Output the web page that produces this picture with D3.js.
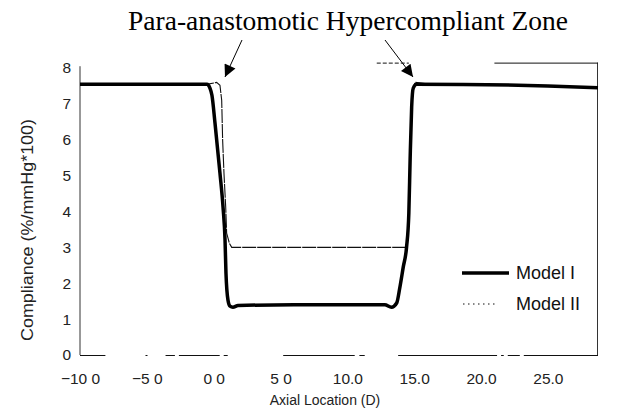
<!DOCTYPE html>
<html>
<head>
<meta charset="utf-8">
<script src="https://cdn.jsdelivr.net/npm/d3@7"></script>
<style>
  body { margin: 0; background: #fff; }
  svg { display: block; }
  .tick text { font-family: "Liberation Sans", Arial, sans-serif; fill: #222; }
</style>
</head>
<body>
<div id="chart"></div>
<script>
// axial location (D) and compliance (%/mmHg*100)
const modelIx = [-10, -1.0, -0.5, -0.28, -0.13, 0.10, 0.47, 0.70, 0.85, 0.92, 1.07, 1.22, 1.44, 1.82, 6.0, 12.8, 13.3, 13.69, 13.93, 14.18, 14.43, 14.6, 14.7, 14.81, 14.93, 15.18, 25.0, 28.75]
const modelIy = [7.55, 7.55, 7.55, 7.44, 7.24, 6.46, 5.07, 4.12, 3.20, 2.28, 1.53, 1.36, 1.33, 1.38, 1.40, 1.40, 1.33, 1.45, 1.89, 2.45, 3.01, 3.96, 5.52, 6.91, 7.44, 7.55, 7.5, 7.45]

const modelIIx = [-10, -0.43, 0.22, 0.47, 0.60, 0.67, 0.77, 0.90, 0.97, 1.17, 1.35, 14.31, 14.43, 14.6, 14.7, 14.81, 14.93, 15.06, 15.8, 25.0, 28.75]
const modelIIy = [7.55, 7.55, 7.6, 7.52, 7.1, 5.99, 5.07, 4.12, 3.4, 3.12, 3.0, 3.0, 3.01, 3.96, 5.52, 6.91, 7.44, 7.6, 7.57, 7.5, 7.45]

const xTicks = [-10, -5, 0, 5, 10, 15, 20, 25]
const xTickLabels = ['\u221210 0', '\u22125 0', '0 0', '5 0', '10.0', '15.0', '20.0', '25.0']
const yTicks = [0, 1, 2, 3, 4, 5, 6, 7, 8]

const title = 'Para-anastomotic Hypercompliant Zone'
const xTitle = 'Axial Location (D)'
const yTitle = 'Compliance (%/mmHg*100)'
const seriesNames = ['Model I', 'Model II']

const width = 630, height = 412
const svg = d3.select('#chart').append('svg')
    .attr('width', width)
    .attr('height', height)

const x = d3.scaleLinear().domain([-10, 28.75]).range([80, 598])
const y = d3.scaleLinear().domain([0, 8]).range([355, 68])

// frame: scanned original shows broken lines, keep the visible pieces
const frame = svg.append('g').attr('stroke', '#111').attr('stroke-width', 1).attr('fill', 'none')
const bottomSegs = [[-10, -8.1], [-5.1, -4.95], [-3.6, -2.9], [-2.6, 0.45], [0.75, 1.05],
                    [5.2, 10.55], [10.9, 11.3], [13.8, 21.2], [21.5, 21.7], [22.0, 22.9], [23.2, 28.75]]
bottomSegs.forEach(s => {
    frame.append('line')
        .attr('x1', x(s[0])).attr('x2', x(s[1]))
        .attr('y1', y(0) + 0.5).attr('y2', y(0) + 0.5)
})
frame.append('line')
    .attr('x1', x(-10)).attr('x2', x(-10))
    .attr('y1', y(0)).attr('y2', y(8.05))
    .attr('stroke', '#333')
frame.append('line')
    .attr('x1', x(28.75) - 0.5).attr('x2', x(28.75) - 0.5)
    .attr('y1', y(0)).attr('y2', y(8.15))
    .attr('stroke', '#333')
const topSegs = [[12.2, 14.6], [21.0, 28.75]]
topSegs.forEach(s => {
    frame.append('line')
        .attr('x1', x(s[0])).attr('x2', x(s[1]))
        .attr('y1', y(8.15) + 0.5).attr('y2', y(8.15) + 0.5)
        .attr('stroke-dasharray', s[0] < 20 ? '4,2' : null)
})

// axes
const xAxis = d3.axisBottom(x)
    .tickValues(xTicks)
    .tickFormat((d, i) => xTickLabels[i])
    .tickSize(0)
    .tickPadding(18)

svg.append('g')
    .attr('transform', `translate(0, ${y(0)})`)
    .call(xAxis)
    .call(g => g.select('.domain').remove())
    .selectAll('text')
    .style('font-size', '15.5px')

const yAxis = d3.axisLeft(y)
    .tickValues(yTicks)
    .tickFormat(d3.format('d'))
    .tickSize(0)
    .tickPadding(9)

svg.append('g')
    .attr('transform', `translate(${x(-10)}, 0)`)
    .call(yAxis)
    .call(g => g.select('.domain').remove())
    .selectAll('text')
    .style('font-size', '15.5px')

svg.append('text')
    .text(xTitle)
    .attr('x', 325)
    .attr('y', 405)
    .attr('text-anchor', 'middle')
    .style('font-family', '"Liberation Sans", Arial, sans-serif')
    .style('font-size', '14px')
    .attr('fill', '#222')

svg.append('text')
    .text(yTitle)
    .attr('transform', 'rotate(-90)')
    .attr('x', -230)
    .attr('y', 33)
    .attr('text-anchor', 'middle')
    .attr('textLength', 222)
    .attr('lengthAdjust', 'spacingAndGlyphs')
    .style('font-family', '"Liberation Sans", Arial, sans-serif')
    .style('font-size', '17px')
    .attr('fill', '#222')

// curves
const dataII = modelIIx.map((v, i) => [v, modelIIy[i]])
const dataI = modelIx.map((v, i) => [v, modelIy[i]])

svg.append('path')
    .datum(dataII)
    .attr('d', d3.line().x(d => x(d[0])).y(d => y(d[1])))
    .attr('fill', 'none')
    .attr('stroke', '#111')
    .attr('stroke-width', 1.1)
    .attr('stroke-dasharray', '14,1')

svg.append('path')
    .datum(dataI)
    .attr('d', d3.line().x(d => x(d[0])).y(d => y(d[1])).curve(d3.curveMonotoneX))
    .attr('fill', 'none')
    .attr('stroke', '#000')
    .attr('stroke-width', 3.5)
    .attr('stroke-linejoin', 'round')

// legend
const legend = svg.append('g')
legend.append('line')
    .attr('x1', 462).attr('x2', 509)
    .attr('y1', 273).attr('y2', 273)
    .attr('stroke', '#000').attr('stroke-width', 3.5)
legend.append('line')
    .attr('x1', 463).attr('x2', 498)
    .attr('y1', 304).attr('y2', 304)
    .attr('stroke', '#111').attr('stroke-width', 1)
    .attr('stroke-dasharray', '1.5,3.5')
legend.selectAll('text')
    .data(seriesNames)
    .enter()
    .append('text')
    .text(d => d)
    .attr('x', 516)
    .attr('y', (d, i) => 279 + i * 31)
    .style('font-family', '"Liberation Sans", Arial, sans-serif')
    .style('font-size', '18px')
    .attr('fill', '#111')

// title with arrows
svg.append('text')
    .text(title)
    .attr('x', 348)
    .attr('y', 30)
    .attr('text-anchor', 'middle')
    .style('font-family', '"Liberation Serif", "Times New Roman", serif')
    .style('font-size', '27.5px')
    .attr('fill', '#000')

svg.append('defs').append('marker')
    .attr('id', 'arrow')
    .attr('viewBox', '0 0 10 10')
    .attr('refX', 10).attr('refY', 5)
    .attr('markerWidth', 14).attr('markerHeight', 12)
    .attr('markerUnits', 'userSpaceOnUse')
    .attr('orient', 'auto')
    .append('path')
    .attr('d', 'M0,0 L10,5 L0,10 Z')
    .attr('fill', '#000')

const arrows = [[242, 40, 225, 77], [385, 40, 413, 77]]
svg.selectAll('.arrow')
    .data(arrows)
    .enter()
    .append('line')
    .attr('class', 'arrow')
    .attr('x1', d => d[0]).attr('y1', d => d[1])
    .attr('x2', d => d[2]).attr('y2', d => d[3])
    .attr('stroke', '#000')
    .attr('stroke-width', 1)
    .attr('marker-end', 'url(#arrow)')
</script>
</body>
</html>
